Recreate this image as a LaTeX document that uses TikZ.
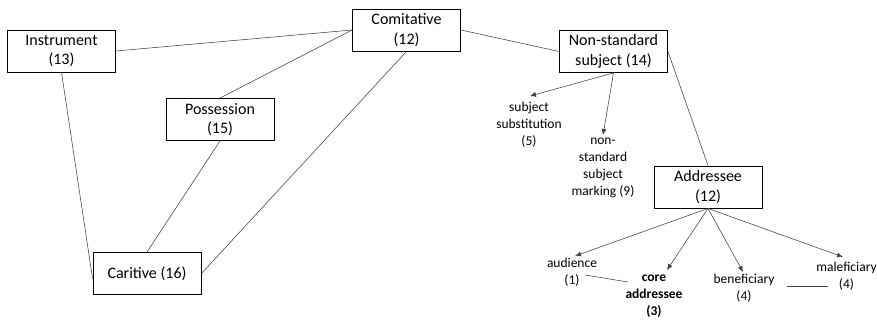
\documentclass[tikz,border=0pt]{standalone}
\usepackage{fontspec}
\setmainfont{Carlito}
\usetikzlibrary{arrows.meta}
\begin{document}
\begin{tikzpicture}[x=1pt,y=-1pt,
  box/.style={draw=black, line width=0.9pt, fill=white, minimum width=108pt, minimum height=42pt, inner sep=0pt, align=center, font=\fontsize{16}{19.5}\selectfont},
  lbl/.style={align=center, inner sep=1.5pt, font=\fontsize{13.5}{17}\selectfont},
  link/.style={draw=black!75, line width=0.55pt},
  arr/.style={link, -{Latex[length=6pt,width=5pt]}}]
\useasboundingbox (0,0) rectangle (877,320);

\node[box] (ins) at (61.5,51) {Instrument\\(13)};
\node[box] (com) at (406.5,30) {Comitative\\(12)};
\node[box] (pos) at (220,119.5) {Possession\\(15)};
\node[box] (car) at (147,273.5) {Caritive (16)};
\node[box] (nss) at (613.5,51.5) {Non-standard\\subject (14)};
\node[box] (adr) at (708,187) {Addressee\\(12)};

\node[lbl, anchor=north] (sub) at (529,100) {subject\\substitution\\(5)};
\node[lbl, anchor=north] (nsm) at (603,136) {non-\\standard\\subject\\marking (9)};
\node[lbl, anchor=north] (aud) at (572,256) {audience\\(1)};
\node[lbl, anchor=north, font=\fontsize{13.5}{17}\selectfont\bfseries] (core) at (654,273) {core\\addressee\\(3)};
\node[lbl, anchor=north] (ben) at (744,272) {beneficiary\\(4)};
\node[lbl, anchor=north] (mal) at (846.5,260) {maleficiary\\(4)};

\draw[link] (ins.east) -- (com.west);
\draw[link] (com.west) -- (pos.north);
\draw[link] (com.south) -- (car.east);
\draw[link] (ins.south) -- ([yshift=-5pt]car.west);
\draw[link] (pos.south) -- (car.north);
\draw[link] (com.east) -- (nss.west);
\draw[link] (nss.east) -- (adr.north);

\draw[arr] (nss.south) -- ([xshift=1pt,yshift=4pt]sub.north);
\draw[arr] (nss.south) -- ([yshift=1pt]nsm.north);
\draw[arr] (adr.south) -- ([xshift=3pt]aud.north);
\draw[arr] (adr.south) -- ([xshift=13pt,yshift=3pt]core.north);
\draw[arr] (adr.south) -- ([xshift=-1pt]ben.north);
\draw[arr] (adr.south) -- ([xshift=-3.5pt,yshift=3pt]mal.north);

\coordinate (l1a) at (585,275);
\coordinate (l1b) at (628,282);
\coordinate (l2a) at (787,286);
\coordinate (l2b) at (828,286);
\draw[link] (l1a) -- (l1b);
\draw[link] (l2a) -- (l2b);
\end{tikzpicture}
\end{document}
